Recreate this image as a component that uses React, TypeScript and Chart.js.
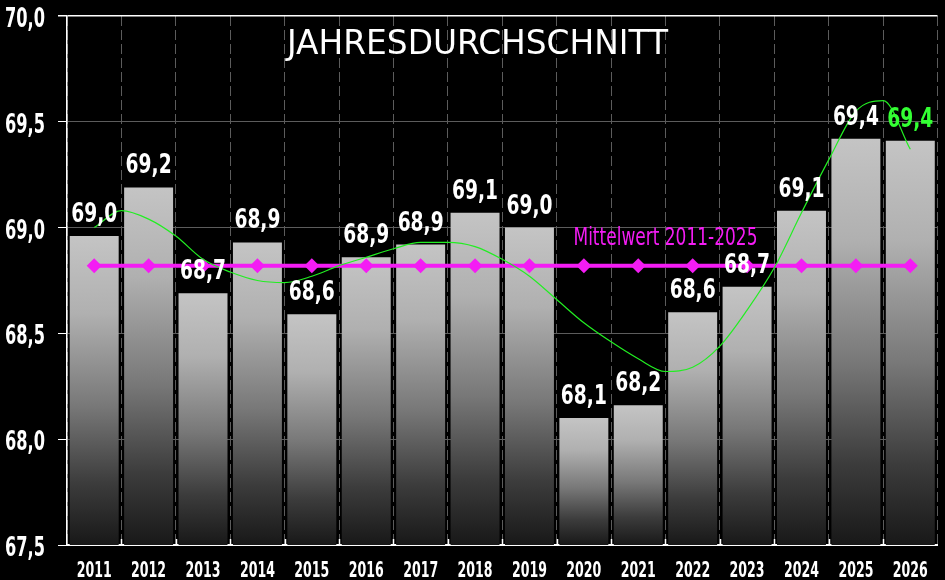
import { useEffect, useRef } from 'react'
import { Chart, registerables } from 'chart.js'

Chart.register(...registerables)

const title = 'JAHRESDURCHSCHNITT'
const years = ['2011', '2012', '2013', '2014', '2015', '2016', '2017', '2018', '2019', '2020', '2021', '2022', '2023', '2024', '2025', '2026']
const averages = [68.96, 69.19, 68.69, 68.93, 68.59, 68.86, 68.92, 69.07, 69.0, 68.1, 68.16, 68.6, 68.72, 69.08, 69.42, 69.41]
const meanValue = 68.82
const meanLabel = 'Mittelwert 2011-2025'
// trend curve at whole and half category steps
const trendPos = [0, 0.5, 1, 1.5, 2, 2.5, 3, 3.5, 4, 4.5, 5, 5.5, 6, 6.5, 7, 7.5, 8, 8.5, 9, 9.5, 10, 10.5, 11, 11.5, 12, 12.5, 13, 13.5, 14, 14.5, 15]
const trendValues = [69.0, 69.08, 69.04, 68.96, 68.85, 68.79, 68.75, 68.74, 68.77, 68.82, 68.86, 68.9, 68.93, 68.93, 68.91, 68.85, 68.77, 68.66, 68.55, 68.46, 68.38, 68.32, 68.34, 68.44, 68.61, 68.81, 69.07, 69.32, 69.55, 69.6, 69.37]
const yTicks = [67.5, 68.0, 68.5, 69.0, 69.5, 70.0]

const FONT = "'DejaVu Sans', sans-serif"
const fmt = (v: number) => v.toFixed(1).replace('.', ',')

function scaleFor(ctx: CanvasRenderingContext2D, font: string, sample: string, target: number) {
    ctx.save()
    ctx.font = font
    const w = ctx.measureText(sample).width
    ctx.restore()
    return target / w
}

function drawText(ctx: CanvasRenderingContext2D, text: string, x: number, y: number, font: string, color: string, sx: number, align: CanvasTextAlign) {
    ctx.save()
    ctx.font = font
    ctx.fillStyle = color
    ctx.textAlign = align
    ctx.textBaseline = 'alphabetic'
    ctx.translate(x, y)
    ctx.scale(sx, 1)
    ctx.fillText(text, 0, 0)
    ctx.restore()
}

const textPlugin = {
    id: 'texts',
    afterDatasetsDraw(chart: any) {
        const { ctx, chartArea, scales } = chart
        const xs = scales.x
        const ys = scales.y
        const step = (chartArea.right - chartArea.left) / years.length

        // inner tick marks on the x axis
        ctx.save()
        ctx.strokeStyle = '#ffffff'
        ctx.lineWidth = 1.5
        for (let i = 1; i < years.length; i++) {
            const px = Math.round(xs.getPixelForValue(i) - step / 2) + 0.5
            ctx.beginPath()
            ctx.moveTo(px, chartArea.bottom)
            ctx.lineTo(px, chartArea.bottom - 6)
            ctx.stroke()
        }
        ctx.restore()

        // value labels
        const valFont = `bold 27px ${FONT}`
        const valSx = scaleFor(ctx, valFont, '69,2', 46)
        averages.forEach((v, i) => {
            const top = ys.getPixelForValue(v)
            const color = i === averages.length - 1 ? '#33ff33' : '#ffffff'
            drawText(ctx, fmt(v), xs.getPixelForValue(i), top - 14, valFont, color, valSx, 'center')
        })

        // mean label
        const meanFont = `25px ${FONT}`
        const meanSx = scaleFor(ctx, meanFont, meanLabel, 184)
        const mx = (xs.getPixelForValue(10) + xs.getPixelForValue(11)) / 2
        drawText(ctx, meanLabel, mx, ys.getPixelForValue(meanValue) - 21, meanFont, '#f41cf4', meanSx, 'center')
    },
    afterDraw(chart: any) {
        const { ctx, chartArea, scales } = chart
        const xs = scales.x
        const ys = scales.y

        // y tick labels
        const yFont = `bold 27px ${FONT}`
        const ySx = scaleFor(ctx, yFont, '70,0', 40)
        yTicks.forEach(v => {
            drawText(ctx, fmt(v), chartArea.left - 22, ys.getPixelForValue(v) + 11, yFont, '#ffffff', ySx, 'right')
        })

        // x tick labels
        const xFont = `bold 21px ${FONT}`
        const xSx = scaleFor(ctx, xFont, '2011', 35)
        years.forEach((yr, i) => {
            drawText(ctx, yr, xs.getPixelForValue(i), chartArea.bottom + 32, xFont, '#ffffff', xSx, 'center')
        })

        // title
        const tFont = `34px ${FONT}`
        const tSx = scaleFor(ctx, tFont, title, 381)
        drawText(ctx, title, chart.width / 2 + 5, chartArea.top + 38, tFont, '#ffffff', tSx, 'center')
    }
}

export default function App() {
    const chartRef = useRef<HTMLCanvasElement>(null)
    const chartInstance = useRef<Chart | null>(null)

    useEffect(() => {
        if (!chartRef.current) return
        if (chartInstance.current) chartInstance.current.destroy()

        const ctx = chartRef.current.getContext('2d')
        if (!ctx) return

        chartInstance.current = new Chart(ctx, {
            type: 'bar',
            data: {
                labels: years,
                datasets: [
                    {
                        type: 'line',
                        label: 'Trend',
                        data: trendPos.map((p, i) => ({ x: p, y: trendValues[i] })) as any,
                        xAxisID: 'xt',
                        borderColor: '#22ee22',
                        borderWidth: 1.2,
                        pointRadius: 0,
                        cubicInterpolationMode: 'monotone',
                        order: 0
                    } as any,
                    {
                        type: 'line',
                        label: meanLabel,
                        data: years.map(() => meanValue),
                        borderColor: '#f41cf4',
                        backgroundColor: '#f41cf4',
                        borderWidth: 4,
                        pointStyle: 'rectRot',
                        pointRadius: 7.5,
                        pointBorderWidth: 0,
                        pointBackgroundColor: '#f41cf4',
                        order: 1
                    } as any,
                    {
                        type: 'bar',
                        label: 'Jahresdurchschnitt',
                        data: averages,
                        backgroundColor: (c: any) => {
                            const ys = c.chart.scales.y
                            if (!ys || c.type !== 'data') return '#888888'
                            const top = ys.getPixelForValue(c.raw)
                            const bottom = ys.getPixelForValue(ys.min)
                            if (!isFinite(top) || !isFinite(bottom)) return '#888888'
                            const g = c.chart.ctx.createLinearGradient(0, top, 0, bottom)
                            g.addColorStop(0, '#c4c4c4')
                            g.addColorStop(0.25, '#b0b0b0')
                            g.addColorStop(0.55, '#787878')
                            g.addColorStop(0.8, '#3c3c3c')
                            g.addColorStop(1, '#181818')
                            return g
                        },
                        borderWidth: 0,
                        grouped: false,
                        barPercentage: 0.9,
                        categoryPercentage: 1,
                        order: 2
                    } as any
                ]
            },
            options: {
                responsive: false,
                animation: false,
                events: [],
                layout: { padding: { top: 16, right: 3, left: 0, bottom: 0 } },
                plugins: {
                    legend: { display: false },
                    tooltip: { enabled: false }
                },
                scales: {
                    x: {
                        type: 'category',
                        offset: true,
                        grid: {
                            offset: true,
                            color: (c: any) => (c.index === years.length ? 'rgba(0,0,0,0)' : '#5c5c5c'),
                            lineWidth: 1,
                            drawTicks: false
                        },
                        border: { display: true, color: '#ffffff', width: 2, dash: [10, 4] },
                        ticks: { display: false },
                        afterFit: (s: any) => { s.height = 35 }
                    },
                    xt: {
                        type: 'linear',
                        display: false,
                        offset: false,
                        grid: { offset: false },
                        min: -0.5,
                        max: 15.5
                    },
                    y: {
                        min: 67.5,
                        max: 70,
                        ticks: { stepSize: 0.5, display: false },
                        grid: {
                            color: (c: any) => (c.tick && c.tick.value === 70 ? '#ffffff' : '#5c5c5c'),
                            lineWidth: (c: any) => (c.tick && c.tick.value === 70 ? 1.5 : 1),
                            tickColor: '#ffffff',
                            tickLength: 9
                        },
                        border: { color: '#ffffff', width: 1.5 },
                        afterFit: (s: any) => { s.width = 67 }
                    }
                }
            },
            plugins: [textPlugin]
        })

        return () => {
            if (chartInstance.current) {
                chartInstance.current.destroy()
                chartInstance.current = null
            }
        }
    }, [])

    return (
        <div style={{ position: 'fixed', left: 0, top: 0, width: 945, height: 580, background: '#000000' }}>
            <canvas ref={chartRef} width={945} height={580}></canvas>
        </div>
    )
}
